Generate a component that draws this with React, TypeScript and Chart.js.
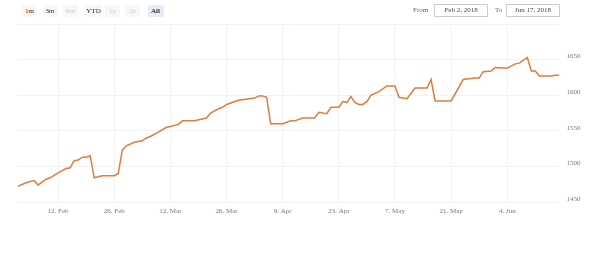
import React, { useEffect, useRef } from "react";
import { Chart, registerables } from "chart.js";

Chart.register(...registerables);

// Day offsets from 2 Feb 2018 (day 0) to 17 Jun 2018 (day 135)
const days = [0, 2, 4, 5, 7, 8, 10, 11, 12, 13, 14, 15, 16, 17, 18, 19, 21, 24, 25, 26, 27, 29, 31, 32, 33, 35, 37, 38, 40, 41, 44, 47, 48, 50, 51, 52, 55, 59, 60, 61, 62, 63, 66, 68, 69, 71, 74, 75, 77, 78, 80, 81, 82, 83, 84, 85, 86, 87, 88, 90, 92, 94, 95, 97, 99, 102, 103, 104, 108, 111, 114, 115, 116, 118, 119, 122, 124, 125, 127, 128, 129, 130, 133, 134, 135];
const values = [1472, 1477, 1480, 1474, 1482, 1484, 1491, 1494, 1497, 1498, 1508, 1509, 1513, 1513, 1515, 1484, 1487, 1487, 1490, 1523, 1529, 1534, 1536, 1540, 1542, 1548, 1555, 1556, 1559, 1564, 1564, 1568, 1575, 1581, 1583, 1587, 1593, 1596, 1599, 1599, 1597, 1560, 1560, 1564, 1564, 1568, 1568, 1576, 1574, 1583, 1583, 1591, 1590, 1598, 1590, 1587, 1587, 1591, 1600, 1605, 1613, 1613, 1597, 1595, 1610, 1610, 1622, 1592, 1592, 1622, 1624, 1624, 1633, 1634, 1639, 1638, 1644, 1645, 1653, 1634, 1634, 1627, 1627, 1628, 1628];

const tickDays = [10, 24, 38, 52, 66, 80, 94, 108, 122];
const tickLabels = ["12. Feb", "26. Feb", "12. Mar", "26. Mar", "9. Apr", "23. Apr", "7. May", "21. May", "4. Jun"];
const yTicks = [1450, 1500, 1550, 1600, 1650, 1700];

const rangeButtons = ["1m", "3m", "6m", "YTD", "1y", "2y", "All"];
const buttonCenters = [29.5, 50, 70.5, 93.5, 112.5, 132.5, 155.5];
const buttonWidths = [15, 15, 15, 17, 15, 15, 16];
const disabledButtons = ["6m", "1y", "2y"];
const fromDate = "Feb 2, 2018";
const toDate = "Jun 17, 2018";

const FONT = '"Liberation Serif", "Times New Roman", serif';

export default function App() {
  const ref = useRef<HTMLCanvasElement | null>(null);

  useEffect(() => {
    if (!ref.current) return;
    const chart = new Chart(ref.current, {
      type: "line",
      data: {
        datasets: [
          {
            data: days.map((d, i) => ({ x: d, y: values[i] })),
            borderColor: "#de7d3c",
            borderWidth: 1.5,
            pointRadius: 0,
            tension: 0,
            fill: false,
          },
        ],
      },
      options: {
        animation: false,
        responsive: false,
        maintainAspectRatio: false,
        layout: { padding: { left: 18, top: 24, right: 0, bottom: 0 } },
        plugins: { legend: { display: false }, tooltip: { enabled: false } },
        scales: {
          x: {
            type: "linear",
            min: 0,
            max: 135,
            afterBuildTicks: (scale: any) => {
              scale.ticks = tickDays.map((v) => ({ value: v }));
            },
            afterFit: (scale: any) => {
              scale.height = 59;
            },
            grid: { color: "#f3f3f3", drawTicks: false, lineWidth: 1 },
            border: { display: false },
            ticks: {
              autoSkip: false,
              maxRotation: 0,
              padding: 5,
              color: "#777",
              font: { family: FONT, size: 7 },
              callback: (v: any) => {
                const i = tickDays.indexOf(Number(v));
                return i >= 0 ? tickLabels[i] : "";
              },
            },
          },
          y: {
            type: "linear",
            position: "right",
            min: 1450,
            max: 1700,
            afterBuildTicks: (scale: any) => {
              scale.ticks = yTicks.map((v) => ({ value: v }));
            },
            afterFit: (scale: any) => {
              scale.width = 29.6;
            },
            grid: { color: "#f2f2f2", drawTicks: false, lineWidth: 1 },
            border: { display: false },
            ticks: {
              padding: 7,
              labelOffset: -3,
              color: "#777",
              font: { family: FONT, size: 7 },
              callback: (v: any) => (Number(v) === 1700 ? "" : String(v)),
            },
          },
        },
      },
    });
    return () => chart.destroy();
  }, []);

  const btnStyle = (i: number): React.CSSProperties => {
    const label = rangeButtons[i];
    const selected = label === "All";
    const disabled = disabledButtons.includes(label);
    return {
      position: "absolute",
      left: buttonCenters[i] - buttonWidths[i] / 2,
      top: 5,
      width: buttonWidths[i],
      height: 12,
      lineHeight: "12px",
      textAlign: "center",
      background: selected ? "#e6ebf5" : "#f7f7f7",
      borderRadius: 2,
      fontSize: 7,
      fontFamily: FONT,
      fontWeight: selected ? "bold" : "normal",
      color: disabled ? "#cccccc" : "#333333",
    };
  };

  const boxStyle = (left: number, width: number): React.CSSProperties => ({
    position: "absolute",
    left,
    top: 4,
    width,
    height: 11,
    lineHeight: "11px",
    border: "1px solid #cccccc",
    textAlign: "center",
    fontSize: 7,
    fontFamily: FONT,
    color: "#444",
    background: "#fff",
  });

  const labelStyle = (left: number): React.CSSProperties => ({
    position: "absolute",
    left,
    top: 4,
    height: 12,
    lineHeight: "13px",
    fontSize: 7,
    fontFamily: FONT,
    color: "#666",
  });

  return (
    <div style={{ position: "fixed", left: 0, top: 0, width: 589, height: 261, background: "#fff", overflow: "hidden" }}>
      <canvas ref={ref} width={589} height={261} style={{ position: "absolute", left: 0, top: 0, width: 589, height: 261 }} />
      {rangeButtons.map((b, i) => (
        <div key={b} style={btnStyle(i)}>{b}</div>
      ))}
      <div style={labelStyle(413)}>From</div>
      <div style={boxStyle(434, 52)}>{fromDate}</div>
      <div style={labelStyle(495)}>To</div>
      <div style={boxStyle(506, 52)}>{toDate}</div>
    </div>
  );
}
